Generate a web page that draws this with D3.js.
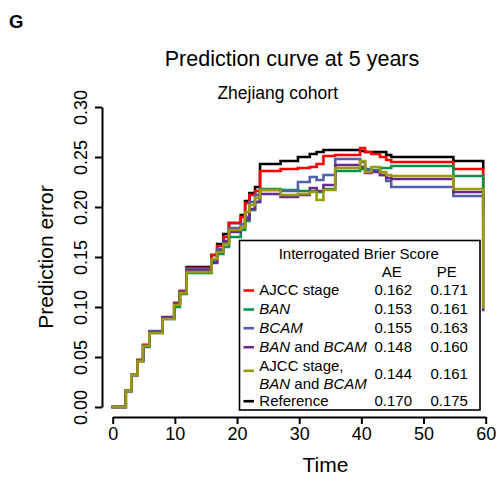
<!DOCTYPE html>
<html><head><meta charset="utf-8">
<script src="https://cdn.jsdelivr.net/npm/d3@7"></script>
<style>
html,body{margin:0;padding:0;background:#fff;}
text{font-family:"Liberation Sans",Arial,sans-serif;fill:#000;}
</style></head>
<body><svg id="c" width="496" height="477"></svg>
<script>
// ---- data ----
const times = [0, 2.1, 3.0, 4.0, 4.9, 5.9, 8.0, 9.9, 10.8, 11.9, 15.9, 16.8, 17.8, 18.7, 20.6, 21.3, 22.0, 22.9, 23.7, 27.0, 29.8, 31.7, 32.8, 33.9, 35.8, 39.8, 40.6, 41.6, 43.0, 44.0, 44.8, 54.8, 59.6];
const reference = [0, 0.016, 0.032, 0.047, 0.062, 0.075, 0.089, 0.104, 0.116, 0.140, 0.152, 0.163, 0.173, 0.184, 0.192, 0.206, 0.214, 0.220, 0.243, 0.246, 0.250, 0.253, 0.255, 0.257, 0.257, 0.256, 0.255, 0.255, 0.255, 0.252, 0.250, 0.246, 0.239];
const ajcc = [0, 0.016, 0.032, 0.047, 0.062, 0.075, 0.089, 0.104, 0.116, 0.139, 0.152, 0.161, 0.170, 0.184, 0.190, 0.204, 0.212, 0.216, 0.236, 0.238, 0.239, 0.240, 0.243, 0.251, 0.252, 0.259, 0.255, 0.253, 0.250, 0.247, 0.245, 0.238, 0.219];
const ban = [0, 0.016, 0.032, 0.046, 0.060, 0.074, 0.088, 0.100, 0.113, 0.134, 0.145, 0.153, 0.160, 0.170, 0.177, 0.186, 0.197, 0.205, 0.218, 0.217, 0.216, 0.216, 0.215, 0.218, 0.236, 0.238, 0.237, 0.237, 0.239, 0.239, 0.241, 0.231, 0.200];
const bcam = [0, 0.016, 0.032, 0.046, 0.061, 0.076, 0.089, 0.103, 0.115, 0.138, 0.147, 0.158, 0.165, 0.179, 0.183, 0.190, 0.205, 0.212, 0.217, 0.216, 0.225, 0.230, 0.227, 0.232, 0.248, 0.245, 0.238, 0.236, 0.232, 0.226, 0.220, 0.211, 0.190];
const banBcam = [0, 0.016, 0.032, 0.046, 0.061, 0.075, 0.090, 0.103, 0.115, 0.137, 0.144, 0.156, 0.166, 0.175, 0.180, 0.188, 0.198, 0.205, 0.213, 0.210, 0.212, 0.219, 0.216, 0.222, 0.242, 0.240, 0.234, 0.235, 0.232, 0.229, 0.228, 0.215, 0.097];
const ajccBanBcam = [0, 0.016, 0.032, 0.046, 0.061, 0.074, 0.088, 0.102, 0.114, 0.135, 0.148, 0.155, 0.163, 0.177, 0.180, 0.195, 0.202, 0.209, 0.217, 0.212, 0.213, 0.215, 0.207, 0.217, 0.239, 0.246, 0.235, 0.240, 0.235, 0.232, 0.231, 0.218, 0.100];

const seriesNames = ["Reference", "AJCC stage", "BAN", "BCAM", "BAN and BCAM", "AJCC stage, BAN and BCAM"];
const seriesValues = [reference, ajcc, ban, bcam, banBcam, ajccBanBcam];
const seriesColors = ["#000000", "#ff0000", "#00964a", "#5160aa", "#6a2a8c", "#9a9a0a"];

const aeScores = ["0.162", "0.153", "0.155", "0.148", "0.144", "0.170"];
const peScores = ["0.171", "0.161", "0.163", "0.160", "0.161", "0.175"];
const xTicks = [0, 10, 20, 30, 40, 50, 60];
const yTicks = [0, 0.05, 0.10, 0.15, 0.20, 0.25, 0.30];

// ---- chart ----
const svg = d3.select("#c");
const x = d3.scaleLinear().domain([0, 60]).range([112.7, 485.7]);
const y = d3.scaleLinear().domain([0, 0.3]).range([407, 107]);

svg.append("text").attr("x", 9).attr("y", 28).attr("font-size", 18.5).attr("font-weight", "bold").text("G");
svg.append("text").attr("x", 292).attr("y", 66).attr("text-anchor", "middle").attr("font-size", 21.5).text("Prediction curve at 5 years");
svg.append("text").attr("x", 277.7).attr("y", 98.5).attr("text-anchor", "middle").attr("font-size", 17.5).text("Zhejiang cohort");

// axes
const xAxis = svg.append("g").attr("transform", "translate(0,417)")
  .call(d3.axisBottom(x).tickValues(xTicks).tickSize(7).tickSizeOuter(0).tickPadding(3));
xAxis.selectAll("text").attr("font-size", 18).attr("font-family", "Liberation Sans, Arial, sans-serif").attr("fill", "#000");
xAxis.selectAll("line,path").attr("stroke", "#000").attr("stroke-width", 2);

const yAxis = svg.append("g").attr("transform", "translate(102,0)")
  .call(d3.axisLeft(y).tickValues(yTicks).tickSize(7).tickSizeOuter(0).tickFormat(d3.format(".2f")));
yAxis.selectAll("line,path").attr("stroke", "#000").attr("stroke-width", 2);
yAxis.selectAll("text")
  .attr("font-size", 18).attr("font-family", "Liberation Sans, Arial, sans-serif").attr("fill", "#000")
  .attr("transform", "rotate(-90)").attr("x", 0).attr("y", -15).attr("dy", 0)
  .attr("text-anchor", "middle");

svg.append("text").attr("x", 325.5).attr("y", 472).attr("text-anchor", "middle").attr("font-size", 21).text("Time");
svg.append("text").attr("transform", "translate(53,257) rotate(-90)").attr("text-anchor", "middle").attr("font-size", 21).text("Prediction error");

// curves
const line = d3.line().x(d => x(d[0])).y(d => y(d[1])).curve(d3.curveStepAfter);
const drawOrder = [0, 1, 2, 3, 4, 5];
drawOrder.forEach(i => {
  const pts = times.map((t, k) => [t, seriesValues[i][k]]);
  svg.append("path").attr("d", line(pts)).attr("fill", "none")
    .attr("stroke", seriesColors[i]).attr("stroke-width", 2.6).attr("stroke-linejoin", "miter").attr("stroke-linecap", "square");
});

// legend
const lg = svg.append("g");
lg.append("rect").attr("x", 239.5).attr("y", 240.5).attr("width", 240.5).attr("height", 169.5)
  .attr("fill", "#fff").attr("stroke", "#000").attr("stroke-width", 1.6);
lg.append("text").attr("x", 358.7).attr("y", 259.3).attr("text-anchor", "middle").attr("font-size", 15).text("Interrogated Brier Score");
lg.append("text").attr("x", 391.7).attr("y", 277.3).attr("text-anchor", "middle").attr("font-size", 15).text("AE");
lg.append("text").attr("x", 446.7).attr("y", 277.3).attr("text-anchor", "middle").attr("font-size", 15).text("PE");

const legendOrder = [1, 2, 3, 4, 5, 0];
const rowLabels = [
  [[["AJCC stage", false]]],
  [[["BAN", true]]],
  [[["BCAM", true]]],
  [[["BAN", true], [" and ", false], ["BCAM", true]]],
  [[["AJCC stage,", false]], [["BAN", true], [" and ", false], ["BCAM", true]]],
  [[["Reference", false]]]
];
const rowBase = [295, 314, 332.7, 351.7, 379.3, 405.7];
legendOrder.forEach((si, r) => {
  const b = rowBase[r];
  const lines = rowLabels[r];
  const sampleY = lines.length > 1 ? b - 8.5 : b - 4.5;
  lg.append("line").attr("x1", 243.5).attr("x2", 254).attr("y1", sampleY).attr("y2", sampleY)
    .attr("stroke", seriesColors[si]).attr("stroke-width", 2.6);
  lines.forEach((parts, li) => {
    const ty = lines.length > 1 ? (li === 0 ? b - 8.6 : b + 10) : b;
    const t = lg.append("text").attr("x", 259.3).attr("y", ty).attr("font-size", 15);
    parts.forEach(p => t.append("tspan").attr("font-style", p[1] ? "italic" : "normal").text(p[0]));
  });
  lg.append("text").attr("x", 393.3).attr("y", b).attr("text-anchor", "middle").attr("font-size", 15).text(aeScores[r]);
  lg.append("text").attr("x", 449.2).attr("y", b).attr("text-anchor", "middle").attr("font-size", 15).text(peScores[r]);
});
</script></body></html>
